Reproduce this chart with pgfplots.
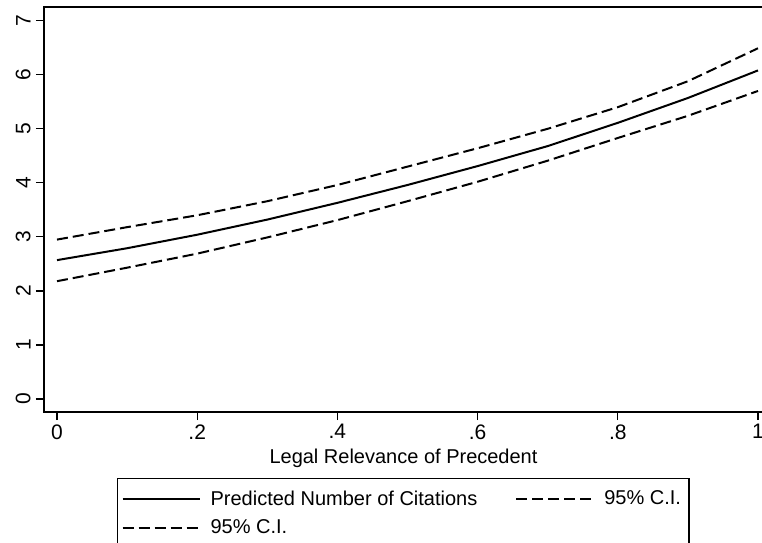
\documentclass[border=0pt]{standalone}
\usepackage{pgfplots}
\pgfplotsset{compat=1.18}
\usepackage{fontspec}
\setmainfont{Liberation Sans}
\begin{document}
\begin{tikzpicture}
\useasboundingbox (0,0) rectangle (381pt,-271pt);
\begin{axis}[
  at={(22pt,-3.5pt)}, anchor=north west,
  scale only axis, width=359.5pt, height=202.5pt,
  xmin=-0.01855, xmax=1.00713, ymin=-0.2405, ymax=7.2535,
  axis line style={line width=0.8pt},
  tick style={line width=0.6pt, black},
  tick align=outside, major tick length=4pt,
  xtick={0,0.2,0.4,0.6,0.8,1},
  xticklabels={0,.2,.4,.6,.8,1},
  ytick={0,1,2,3,4,5,6,7},
  xtick pos=bottom, ytick pos=left,
  /pgf/number format/assume math mode=true,
  tick label style={font=\fontsize{10.5pt}{12pt}\selectfont},
  xticklabel style={inner sep=2pt},
  yticklabel style={rotate=90, anchor=south, inner sep=2.5pt},
  xlabel={Legal Relevance of Precedent},
  xlabel style={font=\fontsize{10pt}{12pt}\selectfont, inner sep=0pt, yshift=-2.5pt},
  legend columns=2,
  legend cell align=left,
  legend image code/.code={\draw[#1] (0pt,0pt) -- (38.5pt,0pt);},
  legend style={at={(0.1015,-0.163)}, anchor=north west, draw=black, line width=0.6pt,
    font=\fontsize{10pt}{12pt}\selectfont, inner xsep=2pt, inner ysep=4pt,
    /tikz/every odd column/.append style={column sep=3pt},
    /tikz/every even column/.append style={column sep=17pt},
    row sep=1.6pt},
]
\addplot[black, line width=1pt] coordinates {
(0,2.57) (0.1,2.79) (0.2,3.04) (0.3,3.32) (0.4,3.63) (0.5,3.96) (0.6,4.31) (0.7,4.68) (0.8,5.11) (0.9,5.57) (1,6.08)};
\addlegendentry{Predicted Number of Citations}
\addplot[black, line width=1pt, dash pattern=on 5.5pt off 2.5pt] coordinates {
(0,2.95) (0.1,3.18) (0.2,3.40) (0.3,3.66) (0.4,3.96) (0.5,4.30) (0.6,4.64) (0.7,5.00) (0.8,5.40) (0.9,5.88) (1,6.49)};
\addlegendentry{95\% C.I.}
\addplot[black, line width=1pt, dash pattern=on 5.5pt off 2.5pt] coordinates {
(0,2.18) (0.1,2.43) (0.2,2.69) (0.3,2.99) (0.4,3.31) (0.5,3.66) (0.6,4.02) (0.7,4.41) (0.8,4.83) (0.9,5.24) (1,5.70)};
\addlegendentry{95\% C.I.}
\end{axis}
\end{tikzpicture}
\end{document}
